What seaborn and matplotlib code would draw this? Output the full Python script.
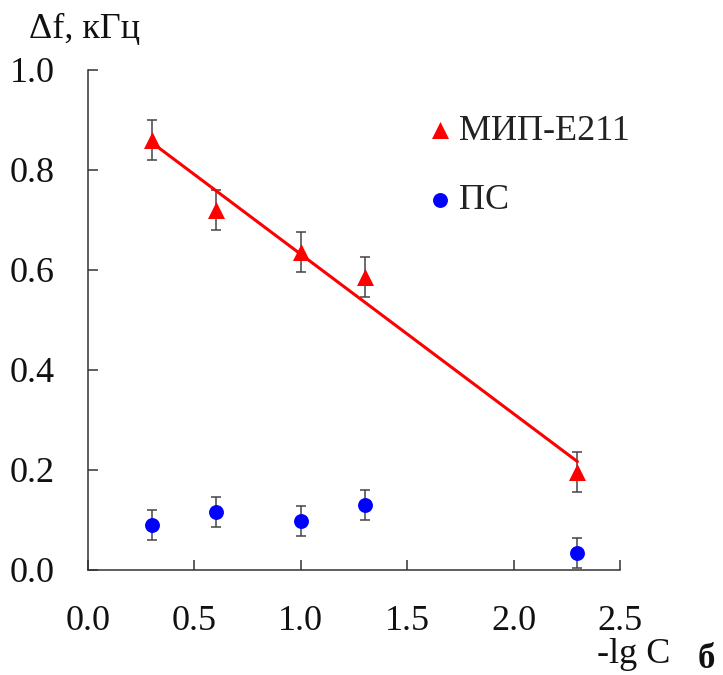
import numpy as np
import pandas as pd
import matplotlib
matplotlib.use("Agg")
import matplotlib.pyplot as plt
import seaborn as sns
from matplotlib import font_manager

# Data
x_vals = [0.3, 0.6, 1.0, 1.3, 2.3]
mip_vals = [0.86, 0.72, 0.636, 0.586, 0.196]
mip_err = [0.04, 0.04, 0.04, 0.04, 0.04]
ps_vals = [0.09, 0.116, 0.098, 0.13, 0.034]
ps_err = [0.03, 0.03, 0.03, 0.03, 0.03]
series_names = ["МИП-Е211", "ПС"]
x_ticks = [0.0, 0.5, 1.0, 1.5, 2.0, 2.5]
y_ticks = [0.0, 0.2, 0.4, 0.6, 0.8, 1.0]

sns.set_style("white")
available = {f.name for f in font_manager.fontManager.ttflist}
serif_choice = [f for f in ["Liberation Serif", "Times New Roman", "DejaVu Serif"] if f in available]
plt.rcParams['font.family'] = 'serif'
plt.rcParams['font.serif'] = serif_choice + ['DejaVu Serif']

df_mip = pd.DataFrame({"x": x_vals, "y": mip_vals, "err": mip_err})
df_ps = pd.DataFrame({"x": x_vals, "y": ps_vals, "err": ps_err})

fig = plt.figure(figsize=(7.23, 6.75), dpi=100)
ax = fig.add_axes([88/723, 105/675, 532/723, 500/675])

err_kw = dict(fmt="none", ecolor="#444444", elinewidth=1.1, capsize=3.6, capthick=1.1, zorder=2)
ax.errorbar(df_mip["x"], df_mip["y"], yerr=df_mip["err"], **err_kw)
ax.errorbar(df_ps["x"], df_ps["y"], yerr=df_ps["err"], **err_kw)

# regression line
sns.regplot(data=df_mip, x="x", y="y", scatter=False, ci=None, truncate=True,
            color="red", line_kws={"linewidth": 2.2, "zorder": 3}, ax=ax)

sns.scatterplot(data=df_mip, x="x", y="y", marker="^", s=150, color="red",
                edgecolor="red", linewidth=0, ax=ax, zorder=4, label=series_names[0])
sns.scatterplot(data=df_ps, x="x", y="y", marker="o", s=115, color="blue",
                edgecolor="blue", linewidth=0, ax=ax, zorder=4, label=series_names[1])

ax.set_xlim(0, 2.5)
ax.set_ylim(0, 1.0)
ax.set_xticks(x_ticks)
ax.set_yticks(y_ticks)
ax.set_xticklabels([f"{t:.1f}" for t in x_ticks])
ax.set_yticklabels([f"{t:.1f}" for t in y_ticks])
ax.set_xlabel("")
ax.set_ylabel("")

for s in ["top", "right"]:
    ax.spines[s].set_visible(False)
for s in ["left", "bottom"]:
    ax.spines[s].set_color("#333333")
    ax.spines[s].set_linewidth(1.1)

ax.tick_params(axis="both", direction="in", length=7.2, width=1.1, color="#333333",
               labelsize=26, labelcolor="#111111")
ax.tick_params(axis="y", pad=24, left=True)
ax.tick_params(axis="x", pad=25.5, bottom=True)

leg = ax.legend(loc="upper left", bbox_to_anchor=(0.607, 0.94), frameon=False,
                fontsize=26, handletextpad=0.13, labelspacing=1.01, markerscale=1.0,
                handlelength=0.8, borderaxespad=0)
for t in leg.get_texts():
    t.set_color("#222222")

fig.text(29/723, 1 - 38/675, "Δf, кГц", fontsize=26, va="baseline", ha="left", color="#111111")
fig.text(597/723, 1 - 663/675, "-lg C", fontsize=26, va="baseline", ha="left", color="#111111")
fig.text(698/723, 1 - 668/675, "б", fontsize=25, fontweight="bold", va="baseline", ha="left", color="#111111")

fig.savefig("out.png", dpi=100)
